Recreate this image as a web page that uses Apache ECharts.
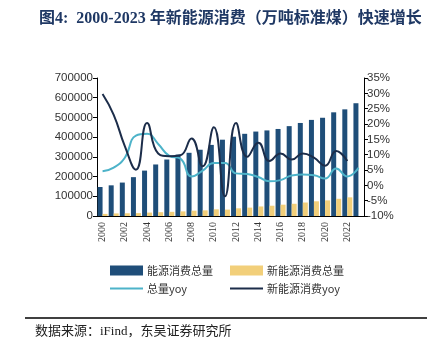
<!DOCTYPE html>
<html>
<head>
<meta charset="utf-8">
<script src="https://cdn.jsdelivr.net/npm/echarts@6/dist/echarts.min.js"></script>
<style>
  html, body { margin: 0; padding: 0; background: #fff; }
  #chart { width: 431px; height: 354px; }
</style>
</head>
<body>
<div id="chart"></div>
<script>
// 年份
const years = ['2000', '2001', '2002', '2003', '2004', '2005', '2006', '2007', '2008', '2009', '2010', '2011',
  '2012', '2013', '2014', '2015', '2016', '2017', '2018', '2019', '2020', '2021', '2022', '2023']

// 能源消费总量（万吨标准煤）
const totalEnergy = [146964, 155547, 169577, 197083, 230281, 261369, 286467, 311442, 320611, 336126, 360648, 387043,
  402138, 416913, 428334, 434113, 441492, 455827, 471925, 487488, 498314, 525896, 541000, 572000]

// 新能源消费总量
const newEnergy = [10700, 13100, 13900, 14600, 17300, 19300, 21200, 23400, 26900, 28600, 33900, 32500,
  39000, 42500, 48400, 52100, 57400, 62000, 68400, 74600, 79200, 87300, 94700, null]

// 总量yoy (%)
const totalYoy = [4.6, 5.8, 9.0, 16.2, 16.8, 13.5, 9.6, 8.7, 2.9, 4.8, 7.3, 7.3,
  3.9, 3.7, 2.7, 1.3, 1.7, 3.2, 3.5, 3.3, 2.2, 5.5, 2.9, 5.7]

// 新能源消费yoy (%)
const newYoy = [29.8, 23.0, 12.8, 5.1, 20.3, 10.4, 9.5, 9.8, 15.3, 6.2, 18.9, -3.6,
  20.3, 9.3, 13.9, 7.9, 10.4, 8.4, 10.4, 9.0, 6.4, 11.2, 7.9, null]

const leftTicks = [0, 700000, 100000]
const rightTicks = [-10, 35, 5]

const chart = echarts.init(document.getElementById('chart'))

const serif = '"Liberation Serif", "Noto Sans CJK SC", serif'
const cjk = '"Noto Sans CJK SC", "Liberation Serif", sans-serif'

function legendItem(name, left, top, icon, h) {
  return {
    data: [name],
    left: left,
    top: top,
    icon: icon,
    itemWidth: 33,
    itemHeight: h,
    padding: 0,
    textStyle: { fontFamily: cjk, fontSize: 11, color: '#333', padding: [0, 0, 0, -1] },
    selectedMode: false
  }
}

chart.setOption({
  animation: false,
  title: {
    text: '图4:  2000-2023 年新能源消费（万吨标准煤）快速增长',
    left: 34,
    top: 6,
    textStyle: { fontFamily: serif, fontSize: 16, fontWeight: 'bold', color: '#1f3864' }
  },
  legend: [
    legendItem('能源消费总量', 110, 265, 'rect', 10),
    legendItem('新能源消费总量', 230, 265, 'rect', 10),
    legendItem('总量yoy', 110, 283, 'rect', 2),
    legendItem('新能源消费yoy', 230, 283, 'rect', 2)
  ],
  grid: { left: 97, right: 67, top: 78, bottom: 138 },
  xAxis: {
    type: 'category',
    data: years,
    axisLine: { lineStyle: { color: '#000', width: 1 } },
    axisTick: { interval: 1, length: 4, lineStyle: { color: '#000' } },
    axisLabel: {
      interval: 1,
      rotate: 90,
      margin: 6,
      fontFamily: serif,
      fontSize: 10,
      color: '#333'
    }
  },
  yAxis: [
    {
      type: 'value',
      min: leftTicks[0],
      max: leftTicks[1],
      interval: leftTicks[2],
      axisLine: { show: true, lineStyle: { color: '#000' } },
      axisTick: { show: true, length: 4, lineStyle: { color: '#000' } },
      splitLine: { show: false },
      axisLabel: {
        formatter: function (v) { return String(v) },
        fontFamily: '"Liberation Sans", sans-serif',
        fontSize: 11.5,
        color: '#333',
        margin: 4
      }
    },
    {
      type: 'value',
      min: rightTicks[0],
      max: rightTicks[1],
      interval: rightTicks[2],
      position: 'right',
      axisLine: { show: true, lineStyle: { color: '#000' } },
      axisTick: { show: true, length: 4, lineStyle: { color: '#000' } },
      splitLine: { show: false },
      axisLabel: { formatter: '{value}%', fontFamily: '"Liberation Sans", sans-serif', fontSize: 11.5, color: '#333', margin: 3 }
    }
  ],
  series: [
    {
      name: '能源消费总量',
      type: 'bar',
      data: totalEnergy,
      barWidth: 5,
      barGap: '0%',
      itemStyle: { color: '#1f4e79' }
    },
    {
      name: '新能源消费总量',
      type: 'bar',
      data: newEnergy,
      barWidth: 5,
      barGap: '0%',
      itemStyle: { color: '#f2cf7a' }
    },
    {
      name: '总量yoy',
      type: 'line',
      yAxisIndex: 1,
      data: totalYoy,
      smooth: 0.5,
      showSymbol: false,
      lineStyle: { color: '#4db3c9', width: 2 },
      itemStyle: { color: '#4db3c9' }
    },
    {
      name: '新能源消费yoy',
      type: 'line',
      yAxisIndex: 1,
      data: newYoy,
      smooth: 0.5,
      showSymbol: false,
      lineStyle: { color: '#1c2d4a', width: 2 },
      itemStyle: { color: '#1c2d4a' }
    }
  ],
  graphic: [
    {
      type: 'line',
      shape: { x1: 25, y1: 318, x2: 427, y2: 318 },
      style: { stroke: '#000', lineWidth: 1.5 }
    },
    {
      type: 'text',
      left: 35,
      top: 325,
      style: { text: '数据来源：iFind，东吴证券研究所', font: '13px ' + serif, fill: '#222' }
    }
  ]
})
</script>
</body>
</html>
